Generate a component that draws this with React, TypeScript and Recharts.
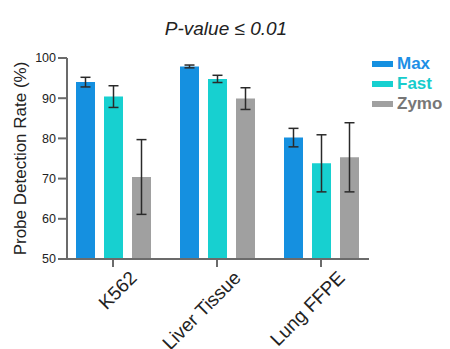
import { BarChart, Bar, XAxis, YAxis, ErrorBar } from 'recharts';

const categories = ['K562', 'Liver Tissue', 'Lung FFPE'];
const maxValues = [94.0, 97.9, 80.2];
const maxErrors = [1.2, 0.35, 2.3];
const fastValues = [90.4, 94.8, 73.8];
const fastErrors = [2.7, 0.9, 7.1];
const zymoValues = [70.4, 89.9, 75.3];
const zymoErrors = [9.3, 2.7, 8.6];
const yTicks = [50, 60, 70, 80, 90, 100];

const series = [
  { key: 'Max', fill: '#1590e0', text: '#1d8fe6' },
  { key: 'Fast', fill: '#17d0d0', text: '#17cccc' },
  { key: 'Zymo', fill: '#a0a0a0', text: '#777777' },
];

const data = categories.map((name, i) => ({
  name,
  Max: maxValues[i],
  MaxErr: maxErrors[i],
  Fast: fastValues[i],
  FastErr: fastErrors[i],
  Zymo: zymoValues[i],
  ZymoErr: zymoErrors[i],
}));

const FONT = '"Liberation Sans", Arial, sans-serif';
const AXIS = '#6b6b6b';

const XTick = ({ x, y, payload }: { x: number; y: number; payload: { value: string } }) => {
  const px = x + 25;
  const py = y + 10;
  return (
    <text
      x={px}
      y={py}
      textAnchor="end"
      fontSize={19}
      fontFamily={FONT}
      fill="#222"
      transform={`rotate(-45, ${px}, ${py})`}
    >
      {payload.value}
    </text>
  );
};

// legend drawn next to the chart so it doesn't eat plot width
const LegendBox = () => (
  <div style={{ position: 'absolute', left: 372, top: 54, fontFamily: FONT }}>
    {series.map((s) => (
      <div key={s.key} style={{ display: 'flex', alignItems: 'center', height: 20 }}>
        <div style={{ width: 21, height: 6, background: s.fill, marginRight: 4 }} />
        <span style={{ color: s.text, fontWeight: 'bold', fontSize: 17 }}>{s.key}</span>
      </div>
    ))}
  </div>
);

export default function App() {
  return (
    <div style={{ position: 'absolute', left: 0, top: 0, width: 450, height: 349, background: '#fff' }}>
      <div
        style={{
          position: 'absolute',
          left: 0,
          width: 452,
          top: 19,
          textAlign: 'center',
          fontFamily: FONT,
          fontStyle: 'italic',
          fontSize: 19,
          lineHeight: '19px',
          color: '#222',
        }}
      >
        P-value ≤ 0.01
      </div>
      <BarChart
        width={450}
        height={349}
        data={data}
        margin={{ top: 58, right: 81, bottom: 0, left: 0 }}
        barSize={19}
        barGap={9}
      >
        <XAxis
          dataKey="name"
          height={90}
          padding={{ left: -6, right: -4 }}
          axisLine={{ stroke: AXIS, strokeWidth: 2 }}
          tickLine={{ stroke: AXIS, strokeWidth: 2 }}
          tickSize={8}
          tickMargin={2}
          interval={0}
          tick={XTick}
        />
        <YAxis
          width={67}
          domain={[50, 100]}
          ticks={yTicks}
          allowDataOverflow
          axisLine={{ stroke: AXIS, strokeWidth: 2 }}
          tickLine={{ stroke: AXIS, strokeWidth: 2 }}
          tickSize={9}
          tickMargin={2}
          tick={{ fontSize: 12.5, fill: '#222', fontFamily: FONT }}
          label={{
            value: 'Probe Detection Rate (%)',
            angle: -90,
            position: 'insideLeft',
            offset: 20,
            style: { textAnchor: 'middle', fontSize: 17, fill: '#222', fontFamily: FONT },
          }}
        />
        {series.map((s) => (
          <Bar key={s.key} dataKey={s.key} fill={s.fill} isAnimationActive={false}>
            <ErrorBar dataKey={`${s.key}Err`} width={5} stroke="#2a2a2a" strokeWidth={1.5} />
          </Bar>
        ))}
      </BarChart>
      <LegendBox />
    </div>
  );
}
